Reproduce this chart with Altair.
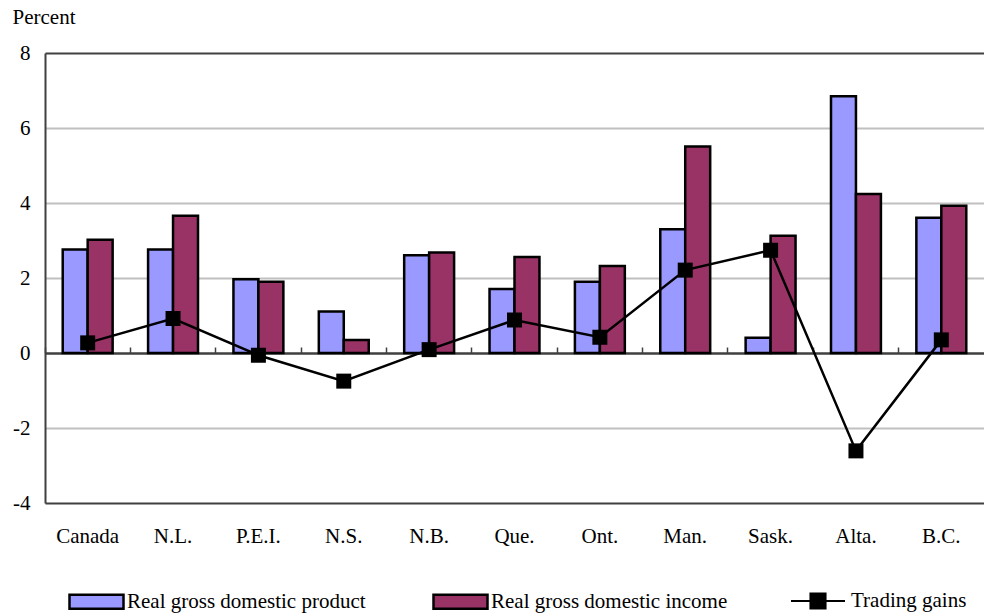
import altair as alt
import pandas as pd

regions = ["Canada", "N.L.", "P.E.I.", "N.S.", "N.B.", "Que.", "Ont.", "Man.", "Sask.", "Alta.", "B.C."]
real_gdp = [2.76, 2.76, 1.97, 1.11, 2.61, 1.71, 1.90, 3.30, 0.41, 6.85, 3.61]
real_gdi = [3.02, 3.66, 1.90, 0.35, 2.68, 2.56, 2.32, 5.51, 3.13, 4.24, 3.93]
trading_gains = [0.27, 0.92, -0.06, -0.75, 0.09, 0.88, 0.42, 2.21, 2.74, -2.61, 0.35]

GDP = "Real gross domestic product"
GDI = "Real gross domestic income"
TG = "Trading gains"

bars = pd.DataFrame(
    [{"region": r, "series": GDP, "value": v} for r, v in zip(regions, real_gdp)]
    + [{"region": r, "series": GDI, "value": v} for r, v in zip(regions, real_gdi)]
)
gains = pd.DataFrame({"region": regions, "series": TG, "value": trading_gains})

FONT = "Liberation Serif"
DARK = "#404040"
LIGHT = "#c0c0c0"

x_scale = alt.Scale(domain=regions, paddingInner=0, paddingOuter=0)
y_scale = alt.Scale(domain=[-4, 8], nice=False)

bar_layer = alt.Chart(bars).mark_bar(stroke="black", strokeWidth=2.5).encode(
    x=alt.X(
        "region:N",
        scale=x_scale,
        axis=alt.Axis(
            orient="bottom", title="", ticks=False, domain=False, grid=False,
            labelAngle=0, labelFont=FONT, labelFontSize=21, labelColor="black",
            labelBaseline="alphabetic", labelPadding=39,
        ),
    ),
    xOffset=alt.XOffset(
        "series:N",
        scale=alt.Scale(domain=[GDP, GDI], paddingInner=0, paddingOuter=0.71),
    ),
    y=alt.Y(
        "value:Q",
        scale=y_scale,
        axis=alt.Axis(
            values=[-4, -2, 0, 2, 4, 6, 8], title="Percent",
            labelExpr="'' + datum.value",
            titleAngle=0, titleX=-33, titleY=-30, titleAlign="left",
            titleBaseline="alphabetic", titleFont=FONT, titleFontSize=21,
            titleFontWeight="normal", titleColor="black",
            labelFont=FONT, labelFontSize=21, labelColor="black", labelPadding=15,
            ticks=False, domain=True, domainColor=DARK, domainWidth=2,
            grid=True, gridWidth=2,
            gridColor=alt.condition(
                "datum.value == 8 || datum.value == -4 || datum.value == 0",
                alt.value(DARK), alt.value(LIGHT),
            ),
        ),
    ),
    fill=alt.Fill(
        "series:N",
        scale=alt.Scale(domain=[GDP, GDI], range=["#9999FF", "#993366"]),
        legend=alt.Legend(
            title="", orient="none", direction="horizontal",
            legendX=23, legendY=520, padding=0,
            symbolType="M-1,-0.26H1V0.26H-1Z", symbolSize=2916,
            symbolStrokeColor="black", symbolStrokeWidth=2.5,
            labelFont=FONT, labelFontSize=21, labelColor="black",
            labelOffset=2, columnPadding=62, labelLimit=400,
        ),
    ),
)

line_layer = alt.Chart(gains).mark_line(strokeWidth=2.5).encode(
    x=alt.X(
        "region:N",
        scale=x_scale,
        axis=alt.Axis(
            orient="top", offset=-300, title="", labels=False,
            ticks=True, tickSize=6, tickColor=DARK, tickWidth=1.5, bandPosition=0,
            domain=True, domainColor=DARK, domainWidth=2, grid=False,
        ),
    ),
    y=alt.Y("value:Q", scale=y_scale, axis=None),
    stroke=alt.Stroke(
        "series:N",
        scale=alt.Scale(domain=[TG], range=["black"]),
        legend=alt.Legend(
            title="", orient="none", legendX=745, legendY=520, padding=0,
            symbolType="M-1,0H1M-0.28,-0.28H0.28V0.28H-0.28Z", symbolSize=2916,
            symbolStrokeColor="black", symbolFillColor="black", symbolStrokeWidth=2,
            labelFont=FONT, labelFontSize=21, labelColor="black", labelOffset=5,
            labelLimit=300,
        ),
    ),
)

point_layer = alt.Chart(gains).mark_point(
    shape="square", filled=True, color="black", size=225, opacity=1
).encode(
    x=alt.X("region:N", scale=x_scale, axis=None),
    y=alt.Y("value:Q", scale=y_scale, axis=None),
)

chart = (
    alt.layer(bar_layer, line_layer, point_layer)
    .resolve_axis(x="independent", y="independent")
    .properties(
        width=939, height=450,
        autosize=alt.AutoSizeParams(type="none"),
        padding={"left": 45, "top": 53, "right": 0, "bottom": 111},
        background="white",
    )
    .configure(font=FONT)
    .configure_view(stroke=None)
    .configure_legend(labelFont=FONT)
)

chart.save("out.html", embed_options={"renderer": "svg", "actions": False})
